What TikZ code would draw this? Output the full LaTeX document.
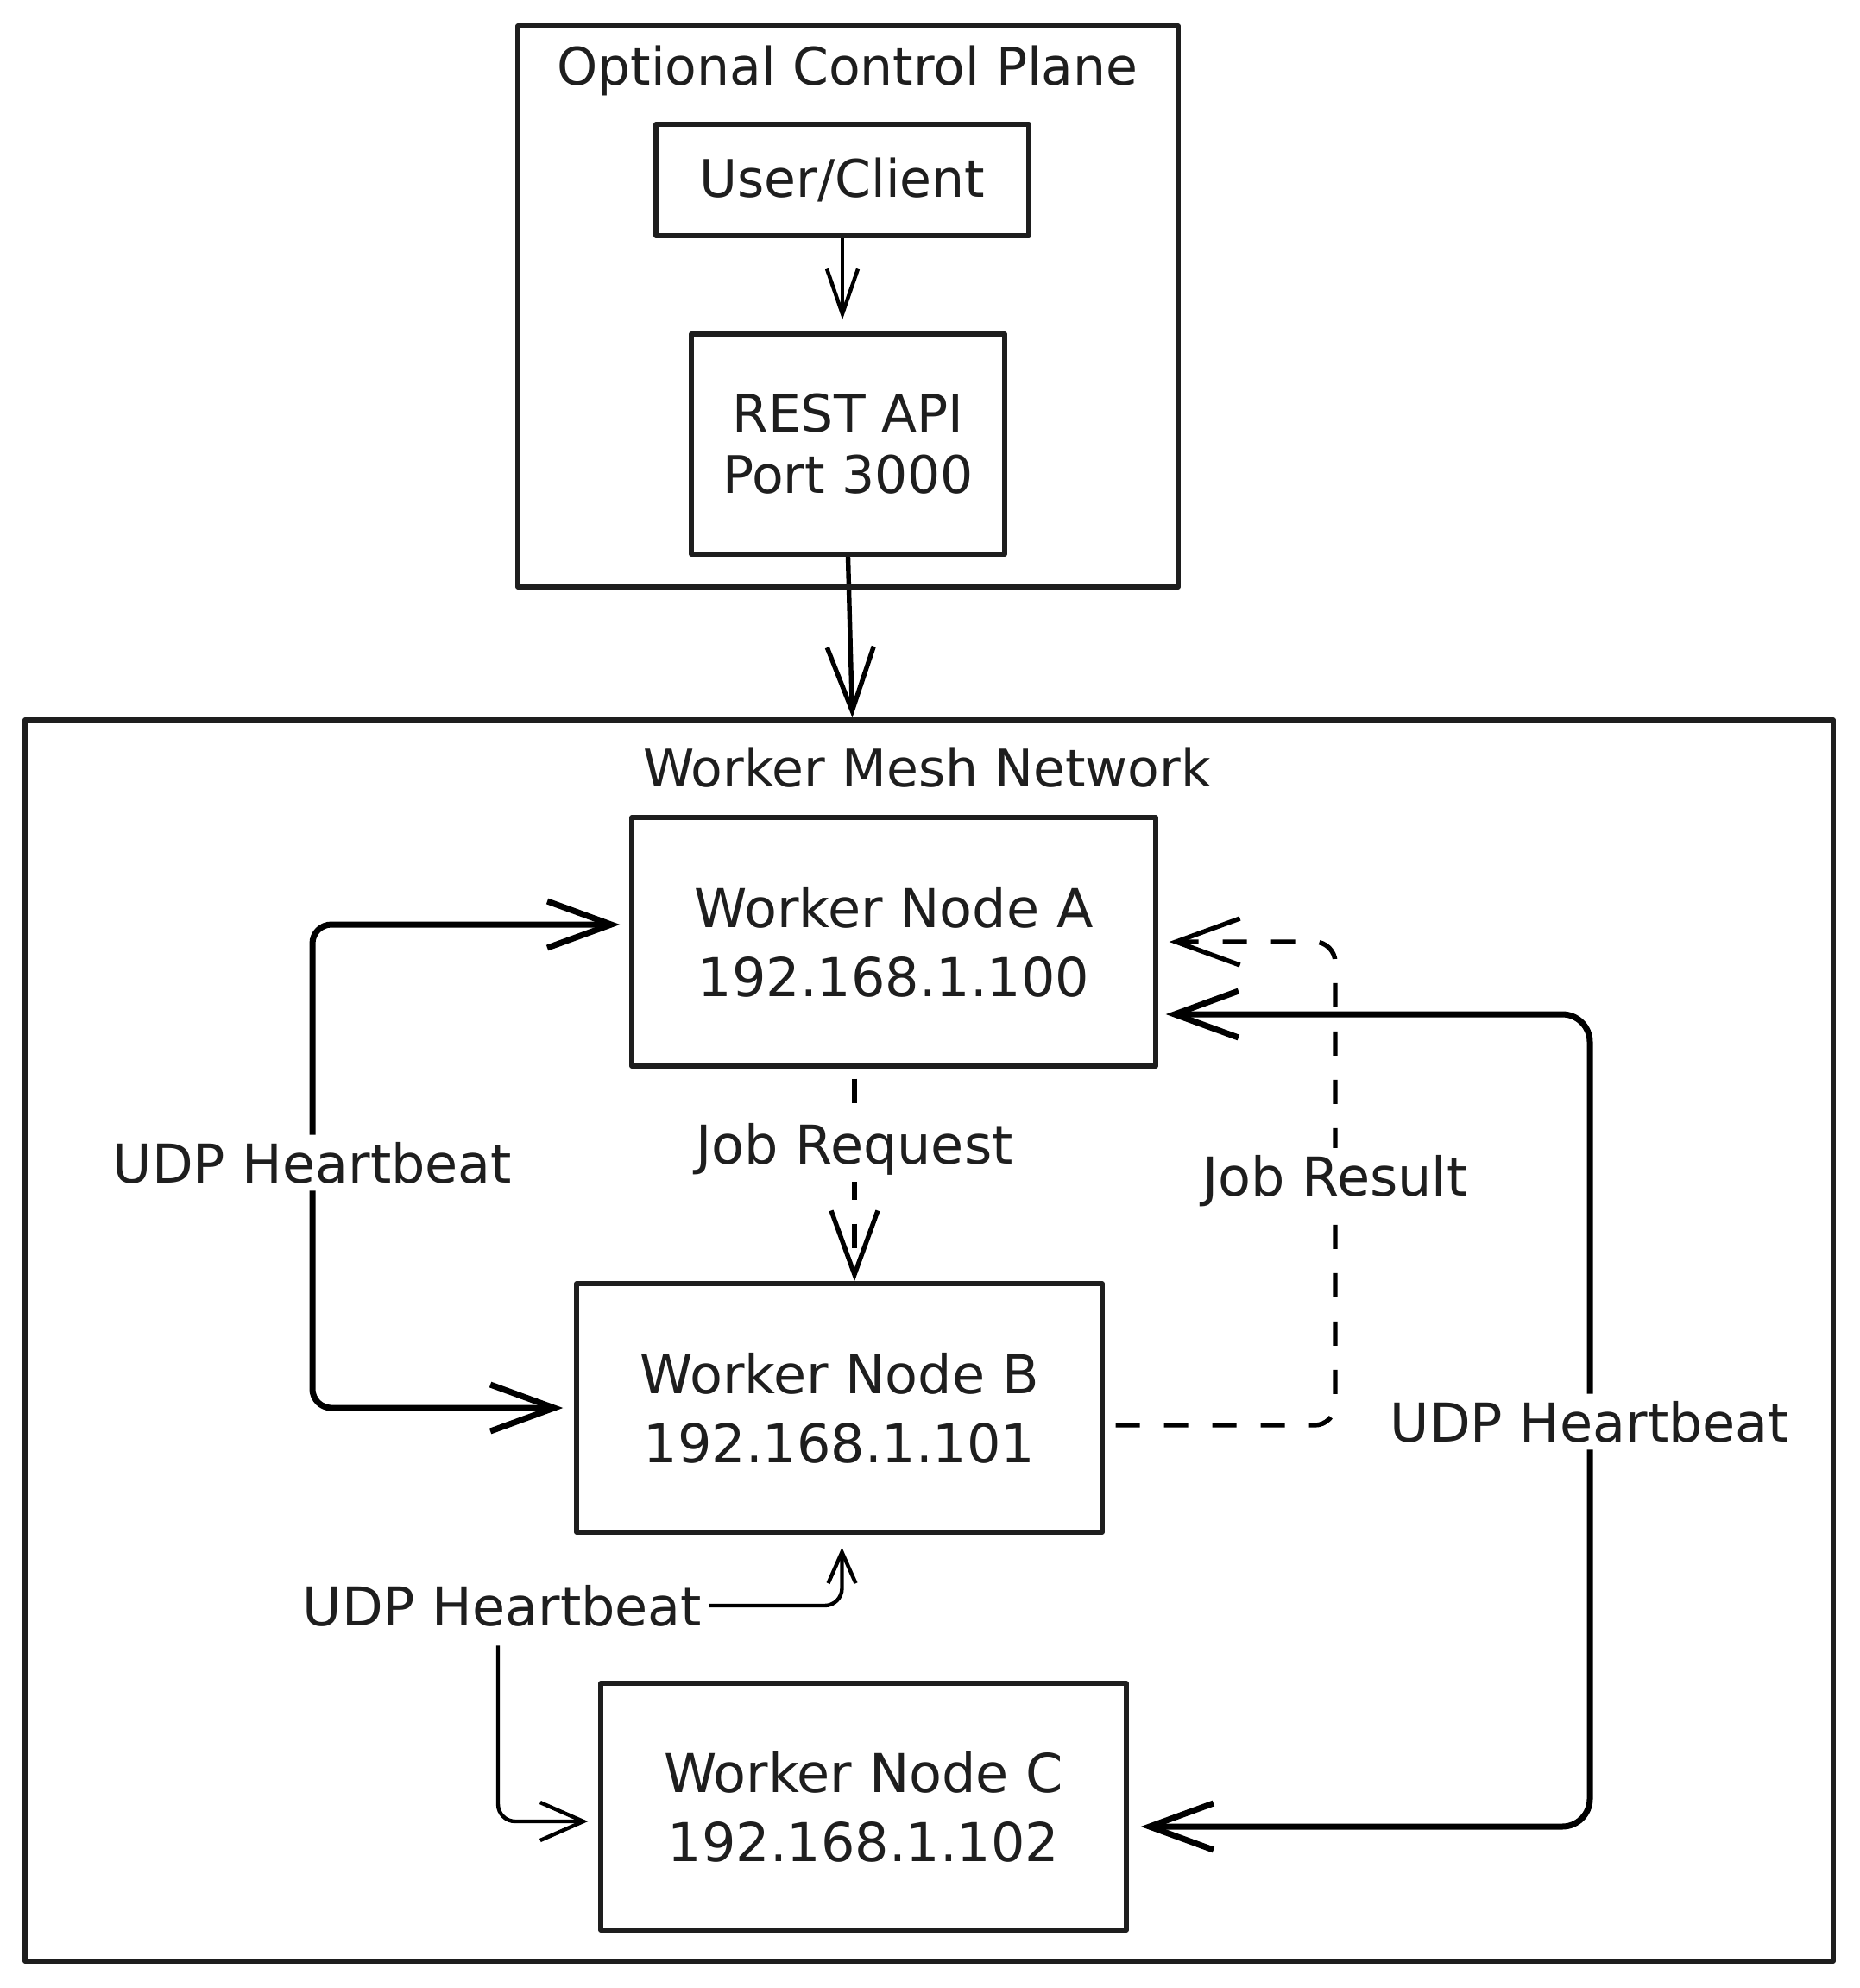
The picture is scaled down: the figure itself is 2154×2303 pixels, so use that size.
\documentclass[tikz,border=0pt]{standalone}
\usepackage{fontspec}
\setmainfont{DejaVu Sans}
\usetikzlibrary{arrows.meta,backgrounds}
\definecolor{ink}{HTML}{1E1E1E}
\begin{document}
\begin{tikzpicture}[x=0.5pt,y=-0.5pt, line join=round, line cap=round, color=ink,
  box/.style={draw, line width=2.7pt, inner sep=0pt, align=center},
  wtext/.style={font=\fontsize{31}{40}\selectfont},
  ttl/.style={font=\fontsize{30}{36}\selectfont, inner sep=0pt},
  lbl/.style={font=\fontsize{31}{38}\selectfont, fill=white, inner sep=4pt},
  big/.style={-{Straight Barb[length=37pt,width=27pt]}},
  hbline/.style={line width=3.5pt},
  dline/.style={line width=2.7pt, dash pattern=on 14pt off 14pt},
  thinline/.style={line width=2.2pt},
]
\useasboundingbox (0,0) rectangle (2154,2303);

% containers
\node[box, minimum width=382.5pt, minimum height=325pt] (cp) at (982.5,355) {};
\node[ttl] (cpt) at (982,82) {Optional Control Plane};
\node[box, minimum width=1047.5pt, minimum height=719pt] (mesh) at (1076.5,1553) {};
\node[ttl] (mesht) at (1074,889) {Worker Mesh Network};

% boxes
\node[box, minimum width=216pt, minimum height=64.5pt, font=\fontsize{30}{36}\selectfont] (user) at (976,208.5) {User/Client};
\node[box, minimum width=181.5pt, minimum height=127.5pt, font=\fontsize{30}{35.5}\selectfont] (rest) at (982.5,514.5) {REST API\\Port 3000};
\node[box, wtext, minimum width=303.5pt, minimum height=144pt] (a) at (1035.5,1091) {Worker Node A\\192.168.1.100};
\node[box, wtext, minimum width=304.5pt, minimum height=144pt] (b) at (972.5,1631) {Worker Node B\\192.168.1.101};
\node[box, wtext, minimum width=304.5pt, minimum height=143pt] (c) at (1000.5,2093) {Worker Node C\\192.168.1.102};

% labels
\node[lbl] (hbL) at (362,1347) {UDP Heartbeat};
\node[lbl] (jreq) at (990,1331) {Job Request};
\node[lbl] (jres) at (1547,1368) {Job Result};
\node[lbl] (hbR) at (1842,1647) {UDP Heartbeat};
\node[lbl, fill=none] (hbB) at (582,1860) {UDP Heartbeat};

\begin{scope}[on background layer]
\fill[white] (0,0) rectangle (2154,2303);
\draw[line width=2.2pt, -{Straight Barb[length=26pt,width=18pt]}, shorten >=7pt] (user.south) -- (user.south |- rest.north);
\draw[line width=2.7pt, big] (rest.south) -- ([xshift=2.5pt]rest.south |- mesh.north);

% left heartbeat A <-> B
\draw[hbline, big, rounded corners=11pt, shorten >=5.5pt] (hbL.north) |- ([yshift=10pt]a.west);
\draw[hbline, big, rounded corners=11pt, shorten >=6.5pt] (hbL.south) |- (b.west);

% job request A -> B
\draw[dline, big, shorten <=6pt] (a.south -| jreq) -- (b.north -| jreq);

% job result B -> A
\draw[dline, big, rounded corners=12pt, shorten <=6.5pt, shorten >=6.5pt] ([yshift=-10pt]b.east) -| (jres.center) |- (a.east);

% right heartbeat A <-> C
\draw[hbline, big, rounded corners=16pt, shorten >=4.5pt] (hbR.north) |- ([yshift=-42pt]a.east);
\draw[hbline, big, rounded corners=16pt, shorten >=7pt] (hbR.south) |- ([yshift=-11.5pt]c.east);

% bottom heartbeat B <-> C
\draw[thinline, -{Straight Barb[length=18pt,width=16pt]}, rounded corners=10pt, shorten >=7.5pt] (hbB.east) -| ([xshift=1.5pt]b.south);
\draw[thinline, -{Straight Barb[length=25pt,width=22pt]}, rounded corners=10pt, shorten <=7pt, shorten >=6pt] (hbB.south -| 577,0) |- ([yshift=-8.5pt]c.west);
\end{scope}
\end{tikzpicture}
\end{document}
